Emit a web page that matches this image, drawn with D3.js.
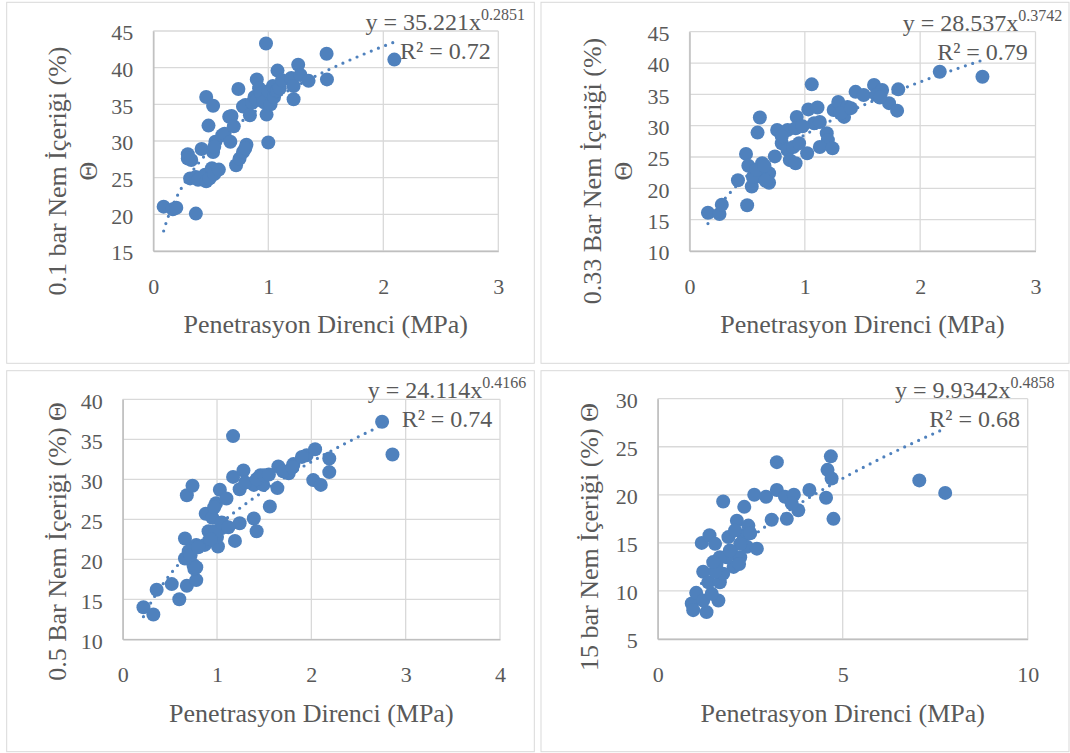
<!DOCTYPE html>
<html>
<head>
<meta charset="utf-8">
<script src="https://cdn.jsdelivr.net/npm/d3@7"></script>
<style>
  html, body { margin: 0; padding: 0; background: #ffffff; }
  svg { display: block; }
</style>
</head>
<body>
<svg id="chart" width="1070" height="753"></svg>
<script>
// ---------- Data ----------
const p1X = [0.09,0.17,0.20,0.37,0.30,0.30,0.33,0.32,0.37,0.39,0.42,0.45,0.46,0.49,0.51,0.53,0.57,0.46,0.52,0.48,0.52,0.54,0.53,0.60,0.62,0.67,0.66,0.68,0.70,0.72,0.75,0.78,0.81,0.80,0.74,0.78,0.80,0.84,0.86,0.88,0.90,0.90,0.92,0.94,0.96,0.98,0.985,1.00,1.00,1.02,1.04,1.05,1.07,1.08,1.08,1.10,1.12,1.20,1.22,1.22,1.26,1.28,1.35,1.507,1.51,2.096];
const p1Y = [21.05,20.7,20.9,20.1,28.2,27.6,27.4,24.9,25.1,24.7,28.9,25.4,24.5,24.9,26.3,25.5,26.1,36.0,34.8,32.1,28.5,29.9,29.2,30.8,31.0,29.9,33.3,33.4,32.0,26.7,27.6,28.5,29.5,29.0,37.1,34.7,34.9,33.5,35.2,36.0,38.4,35.6,37.2,36.5,35.3,43.3,33.6,29.8,36.8,35.0,37.5,36.0,36.8,39.6,36.9,37.2,38.3,38.6,37.5,35.7,40.4,39.0,38.2,41.9,38.4,41.1];

const p2X = [0.16,0.26,0.28,0.50,0.42,0.49,0.51,0.61,0.59,0.54,0.61,0.63,0.69,0.69,0.74,0.76,0.85,0.80,0.85,0.93,0.92,0.90,0.87,0.92,1.02,0.95,1.06,1.03,1.11,1.08,1.13,1.19,1.20,1.13,1.24,1.25,1.29,1.34,1.37,1.44,1.51,1.60,1.67,1.62,1.73,1.80,1.81,2.17,2.54,0.55,0.58,0.65,0.66,0.80,0.98,1.31,1.40,1.65];
const p2Y = [16.1,15.9,17.4,17.3,21.3,25.5,23.6,31.3,28.9,20.3,21.9,24.0,22.4,20.9,25.1,29.3,29.3,27.2,26.1,31.4,29.6,26.6,24.5,24.0,25.6,27.2,36.6,32.6,32.9,30.4,30.6,28.8,27.7,26.6,26.4,32.5,33.8,31.4,33.0,35.4,34.9,36.5,35.7,34.9,33.6,32.4,35.8,38.6,37.8,21.8,23.0,23.6,21.2,28.3,29.9,32.0,32.8,34.5];

const p3X = [0.22,0.325,0.36,0.52,0.60,0.68,0.78,0.75,0.66,0.66,0.73,0.78,0.68,0.74,0.87,0.91,0.93,0.99,1.03,1.10,1.01,1.00,1.05,1.17,1.19,1.24,1.17,1.28,1.24,1.39,1.42,1.39,1.46,1.49,1.56,1.64,1.65,1.76,1.81,1.95,2.04,2.02,2.10,2.19,2.19,2.75,2.86,0.70,0.72,0.76,0.78,0.80,0.88,0.95,0.98,1.05,1.12,1.30,1.42,1.50,1.55,1.70,1.80,1.90,0.93,0.97];
const p3Y = [14.0,13.1,16.2,16.9,15.0,16.7,17.4,19.3,20.1,22.6,21.2,21.8,28.0,29.2,21.8,23.5,25.75,27.0,28.7,27.6,21.6,22.8,23.9,35.4,22.3,24.5,30.3,31.1,28.75,25.1,23.5,29.3,30.5,29.3,26.6,28.9,31.6,30.75,31.9,33.0,33.75,29.9,29.3,32.6,30.9,37.2,33.1,21.0,20.5,18.8,19.0,21.5,25.7,25.2,23.5,24.6,24.0,29.6,30.0,30.5,30.6,31.0,31.5,32.8,22.5,26.5];

const p4X = [0.92,0.96,1.04,1.32,1.23,1.64,1.46,1.19,1.40,1.55,1.23,1.37,1.68,1.59,1.77,1.91,2.14,2.00,2.05,2.23,2.32,2.34,2.45,2.41,2.68,2.61,2.93,3.08,3.22,3.22,3.44,3.49,3.68,3.80,3.62,4.10,4.55,4.59,4.68,4.70,4.75,7.07,7.77,1.86,1.77,1.55,1.68,2.23,2.50,2.09,1.50,1.95,2.20];
const p4Y = [8.7,8.0,9.8,7.8,9.0,9.0,9.7,15.0,15.8,14.9,12.0,10.9,10.9,12.8,19.3,15.6,17.3,13.9,12.5,13.5,15.8,18.75,16.8,14.6,14.4,20.0,19.8,17.4,23.4,20.5,19.8,17.5,20.0,18.4,19.1,20.5,19.7,22.6,24.0,21.7,17.5,21.5,20.2,13.5,11.8,12.0,13.5,14.9,16.0,16.3,13.0,14.2,12.8];

// tick labels
const p1XTicks = [0,1,2,3];
const p1YTicks = [15,20,25,30,35,40,45];
const p2XTicks = [0,1,2,3];
const p2YTicks = [10,15,20,25,30,35,40,45];
const p3XTicks = [0,1,2,3,4];
const p3YTicks = [10,15,20,25,30,35,40];
const p4XTicks = [0,5,10];
const p4YTicks = [5,10,15,20,25,30];

// power trendline coefficients [a, b, R²]
const p1Fit = [35.221, 0.2851, 0.72];
const p2Fit = [28.537, 0.3742, 0.79];
const p3Fit = [24.114, 0.4166, 0.74];
const p4Fit = [9.9342, 0.4858, 0.68];

// axis titles
const p1YTitle = ["0.1 bar Nem İçeriği (%)", "Θ"];
const p2YTitle = ["0.33 Bar Nem İçeriği (%)", "Θ"];
const p3YTitle = ["0.5 Bar Nem İçeriği (%) Θ"];
const p4YTitle = ["15 bar Nem İçeriği (%) Θ"];
const xTitle = "Penetrasyon Direnci (MPa)";

// ---------- Layout ----------
const panels = [
  { box:[6.7,2.3,534.3,363.3], plot:[153.3,31,498.3,251], xd:[0,3], yd:[15,45], X:p1X, Y:p1Y, xt:p1XTicks, yt:p1YTicks, fit:p1Fit, yTitle:p1YTitle, yTitleX:[66,97], yTitleY:171, xTitleY:333, eqFmt:["35.221","0.2851"] },
  { box:[541,2.3,1069,363.3], plot:[689.5,31.7,1035.5,251], xd:[0,3], yd:[10,45], X:p2X, Y:p2Y, xt:p2XTicks, yt:p2YTicks, fit:p2Fit, yTitle:p2YTitle, yTitleX:[601,632], yTitleY:171, xTitleY:333, eqFmt:["28.537","0.3742"] },
  { box:[6.7,370.7,534.3,751.7], plot:[122.7,399.3,500,639.3], xd:[0,4], yd:[10,40], X:p3X, Y:p3Y, xt:p3XTicks, yt:p3YTicks, fit:p3Fit, yTitle:p3YTitle, yTitleX:[66], yTitleY:541.5, xTitleY:722, eqFmt:["24.114","0.4166"] },
  { box:[541,370.7,1069,751.7], plot:[657.7,398.7,1027.7,639], xd:[0,10], yd:[5,30], X:p4X, Y:p4Y, xt:p4XTicks, yt:p4YTicks, fit:p4Fit, yTitle:p4YTitle, yTitleX:[598], yTitleY:537, xTitleY:722, eqFmt:["9.9342","0.4858"] }
];

const FONT = "Liberation Serif";
const TXT = "#595959";
const svg = d3.select("#chart");
const blue = "#4f81bd";
const fmt = d3.format("d");

panels.forEach(p => {
  const g = svg.append("g");
  const [bx0, by0, bx1, by1] = p.box;
  g.append("rect").attr("x", bx0).attr("y", by0).attr("width", bx1 - bx0).attr("height", by1 - by0)
    .attr("fill", "#ffffff").attr("stroke", "#d9d9d9").attr("stroke-width", 1);

  const [px0, py0, px1, py1] = p.plot;
  const x = d3.scaleLinear().domain(p.xd).range([px0, px1]);
  const y = d3.scaleLinear().domain(p.yd).range([py1, py0]);

  // gridlines
  const grid = g.append("g");
  grid.selectAll("line.h").data(p.yt).join("line")
    .attr("x1", px0).attr("x2", px1).attr("y1", d => y(d)).attr("y2", d => y(d))
    .attr("stroke", "#d9d9d9").attr("stroke-width", 1.3);
  grid.selectAll("line.v").data(p.xt).join("line")
    .attr("y1", py0).attr("y2", py1).attr("x1", d => x(d)).attr("x2", d => x(d))
    .attr("stroke", "#d9d9d9").attr("stroke-width", 1.3);

  // axes (lines + labels) via d3 axes
  const yAxis = d3.axisLeft(y).tickValues(p.yt).tickFormat(fmt).tickSize(0).tickPadding(20);
  const ya = g.append("g").attr("transform", `translate(${px0},0)`).call(yAxis);
  ya.attr("font-family", FONT);
  ya.select(".domain").attr("stroke", "#bfbfbf").attr("stroke-width", 1.5);
  ya.selectAll("text").style("font-family", FONT).attr("font-size", 22).attr("fill", TXT).attr("dy", "0.4em");

  const xAxis = d3.axisBottom(x).tickValues(p.xt).tickFormat(fmt).tickSize(0).tickPadding(27);
  const xa = g.append("g").attr("transform", `translate(0,${py1})`).call(xAxis);
  xa.attr("font-family", FONT);
  xa.select(".domain").attr("stroke", "#bfbfbf").attr("stroke-width", 1.5);
  xa.selectAll("text").style("font-family", FONT).attr("font-size", 22).attr("fill", TXT).attr("dy", "0.71em");

  // trendline (power fit) across the data range
  const [a, b, r2] = p.fit;
  const xmin = d3.min(p.X), xmax = d3.max(p.X);
  const samples = d3.range(0, 201).map(i => xmin + (xmax - xmin) * i / 200);
  const line = d3.line().x(d => x(d)).y(d => y(a * Math.pow(d, b)));
  g.append("path").attr("d", line(samples)).attr("fill", "none")
    .attr("stroke", blue).attr("stroke-width", 3.2).attr("stroke-linecap", "round")
    .attr("stroke-dasharray", "0 7.7");

  // points
  g.append("g").selectAll("circle").data(p.X.map((d, i) => [d, p.Y[i]])).join("circle")
    .attr("cx", d => x(d[0])).attr("cy", d => y(d[1])).attr("r", 7).attr("fill", blue);

  // equation
  const ex = px1 - 53;
  const eq = g.append("text").attr("x", ex).attr("y", py0 - 1).attr("text-anchor", "middle")
    .style("font-family", FONT).attr("font-size", 24).attr("fill", TXT);
  eq.append("tspan").text(`y = ${p.eqFmt[0]}x`);
  eq.append("tspan").attr("font-size", 16).attr("dy", -10).text(p.eqFmt[1]);
  g.append("text").attr("x", ex).attr("y", py0 + 28).attr("text-anchor", "middle")
    .style("font-family", FONT).attr("font-size", 24).attr("fill", TXT)
    .text(`R² = ${r2.toFixed(2)}`);

  // x title
  g.append("text").attr("x", (px0 + px1) / 2).attr("y", p.xTitleY).attr("text-anchor", "middle")
    .style("font-family", FONT).attr("font-size", 26).attr("fill", TXT).text(xTitle);

  // y title
  p.yTitle.forEach((t, i) => {
    g.append("text").attr("transform", `translate(${p.yTitleX[i]},${p.yTitleY}) rotate(-90)`)
      .attr("text-anchor", "middle").style("font-family", FONT).attr("font-size", 26).attr("fill", TXT).text(t);
  });
});
</script>
</body>
</html>
